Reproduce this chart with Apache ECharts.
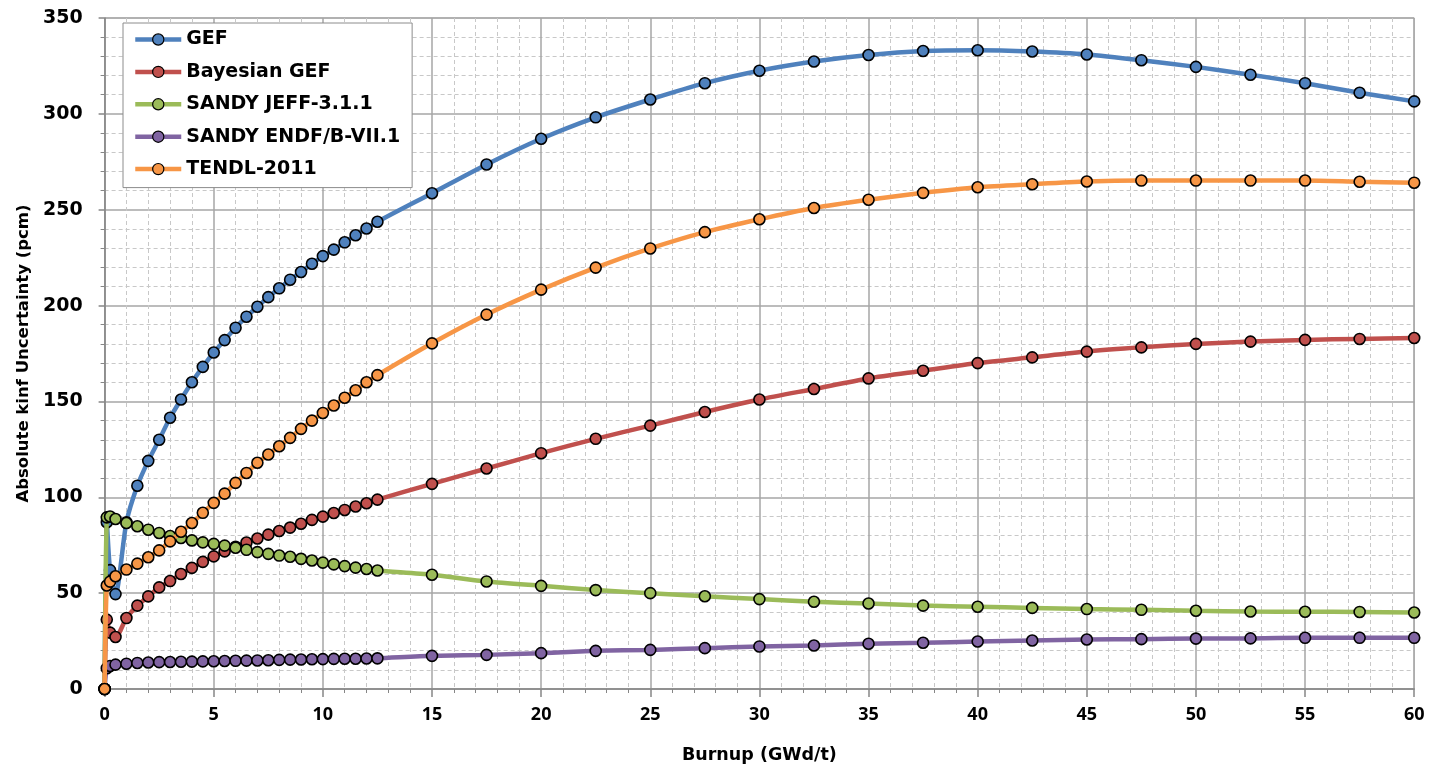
<!DOCTYPE html>
<html>
<head>
<meta charset="utf-8">
<script src="https://cdn.jsdelivr.net/npm/echarts@6/dist/echarts.min.js"></script>
<style>
html,body{margin:0;padding:0;background:#fff;}
#chart{width:1437px;height:769px;}
</style>
</head>
<body>
<div id="chart"></div>
<script>
// Burnup steps (GWd/t)
const burnup = [0, 0.1, 0.25, 0.5, 1, 1.5, 2, 2.5, 3, 3.5, 4, 4.5, 5, 5.5, 6, 6.5, 7, 7.5, 8, 8.5, 9, 9.5, 10, 10.5, 11, 11.5, 12, 12.5,
  15, 17.5, 20, 22.5, 25, 27.5, 30, 32.5, 35, 37.5, 40, 42.5, 45, 47.5, 50, 52.5, 55, 57.5, 60];

const seriesNames = ['GEF', 'Bayesian GEF', 'SANDY JEFF-3.1.1', 'SANDY ENDF/B-VII.1', 'TENDL-2011'];

const gef = [0, 87, 62, 49.5, 87, 106, 119, 130, 141.5, 151, 160, 168, 175.5, 182, 188.4, 194.2, 199.4, 204.4, 209, 213.5, 217.5, 221.8, 225.8, 229.2, 233, 236.7, 240.2, 243.7,
  258.6, 273.6, 287, 298.2, 307.5, 316, 322.5, 327.3, 330.7, 332.8, 333.2, 332.5, 331, 328, 324.5, 320.4, 316, 311, 306.5];

const bayesianGef = [0, 36.2, 29.4, 27.1, 37, 43.5, 48.3, 53, 56.3, 60, 63.2, 66.3, 69.2, 71.8, 74.2, 76.4, 78.5, 80.5, 82.4, 84.2, 86.2, 88.2, 89.9, 91.8, 93.4, 95.2, 96.9, 98.8,
  107, 115, 123, 130.5, 137.4, 144.5, 151, 156.5, 162, 166, 170, 173, 176, 178.2, 180, 181.2, 182.1, 182.6, 183.1];

const sandyJeff = [0, 89.5, 90, 88.7, 86.6, 84.9, 83.1, 81.4, 79.8, 78.8, 77.5, 76.5, 75.7, 74.8, 73.7, 72.6, 71.4, 70.5, 69.6, 69, 67.9, 67, 65.9, 65, 64.1, 63.3, 62.6, 61.8,
  59.6, 56.1, 53.8, 51.6, 50, 48.4, 46.9, 45.5, 44.6, 43.5, 42.9, 42.3, 41.7, 41.3, 40.8, 40.4, 40.3, 40.2, 39.9];

const sandyEndf = [0, 10.8, 12, 12.7, 13.2, 13.6, 13.8, 14, 14.1, 14.2, 14.3, 14.4, 14.5, 14.6, 14.7, 14.8, 14.9, 15, 15.2, 15.3, 15.4, 15.5, 15.6, 15.7, 15.8, 15.8, 15.9, 16,
  17.3, 17.8, 18.7, 19.9, 20.4, 21.3, 22.2, 22.7, 23.6, 24.1, 24.8, 25.3, 25.8, 26, 26.3, 26.4, 26.7, 26.7, 26.7];

const tendl = [0, 54, 56, 58.8, 62.3, 65.4, 68.7, 72.3, 77, 82, 86.6, 91.9, 97.1, 101.9, 107.5, 112.7, 118, 122.3, 126.6, 131, 135.7, 140, 144, 147.9, 151.9, 155.8, 160, 163.7,
  180.3, 195.3, 208.3, 219.8, 229.8, 238.3, 245, 250.9, 255.2, 258.8, 261.7, 263.3, 264.7, 265.2, 265.2, 265.2, 265.2, 264.6, 264.1];

const xTicks = { min: 0, max: 60, interval: 5 };
const yTicks = { min: 0, max: 350, interval: 50 };

const colors = ['#4f81bd', '#c0504d', '#9bbb59', '#8064a2', '#f79646'];
const values = [gef, bayesianGef, sandyJeff, sandyEndf, tendl];

const chart = echarts.init(document.getElementById('chart'), null, { renderer: 'canvas' });

const series = values.map((vals, i) => ({
  name: seriesNames[i],
  type: 'line',
  data: burnup.map((b, j) => [b, vals[j]]),
  smooth: 0.25,
  symbol: 'circle',
  symbolSize: 11,
  showAllSymbol: true,
  lineStyle: { color: colors[i], width: 4.5 },
  itemStyle: { color: colors[i], borderColor: '#000', borderWidth: 1.6 },
  emphasis: { disabled: true },
  animation: false,
  z: 2 + i
}));

chart.setOption({
  animation: false,
  backgroundColor: '#fff',
  grid: {
    left: 104.6, right: 22.8, top: 18, bottom: 79.5,
    show: true, borderColor: '#a6a6a6', borderWidth: 1, backgroundColor: 'transparent'
  },
  legend: {
    show: true,
    orient: 'vertical',
    left: 123, top: 23,
    padding: [7, 12, 9, 10],
    itemWidth: 46, itemHeight: 14, itemGap: 13.4,
    backgroundColor: '#fff',
    borderColor: '#8c8c8c', borderWidth: 1,
    lineStyle: { width: 4.5 },
    itemStyle: { borderColor: '#000', borderWidth: 1.2 },
    textStyle: { fontFamily: 'DejaVu Sans', fontWeight: 'bold', fontSize: 19, color: '#000' },
    data: seriesNames
  },
  xAxis: {
    type: 'value',
    min: xTicks.min, max: xTicks.max, interval: xTicks.interval,
    name: 'Burnup (GWd/t)',
    nameLocation: 'middle', nameGap: 57,
    nameTextStyle: { fontFamily: 'DejaVu Sans', fontWeight: 'bold', fontSize: 17.5, color: '#000' },
    axisLine: { show: true, lineStyle: { color: '#868686', width: 1.5 } },
    axisTick: { show: true, length: 8, inside: false, lineStyle: { color: '#868686', width: 1.5 } },
    minorTick: { show: true, splitNumber: 5, length: 4, lineStyle: { color: '#868686' } },
    axisLabel: { fontFamily: 'Open Sans', fontWeight: 'bold', fontSize: 18, color: '#000', margin: 17 },
    splitLine: { show: true, lineStyle: { color: '#a6a6a6', width: 1.5 } },
    minorSplitLine: { show: true, lineStyle: { color: '#c8c8c8', type: [4, 3], width: 1 } }
  },
  yAxis: {
    type: 'value',
    min: yTicks.min, max: yTicks.max, interval: yTicks.interval,
    name: 'Absolute kinf Uncertainty (pcm)',
    nameLocation: 'middle', nameGap: 70,
    nameTextStyle: { fontFamily: 'DejaVu Sans', fontWeight: 'bold', fontSize: 16.5, color: '#000' },
    axisLine: { show: true, lineStyle: { color: '#868686', width: 1.5 } },
    axisTick: { show: true, length: 6, inside: false, lineStyle: { color: '#868686', width: 1.5 } },
    minorTick: { show: true, splitNumber: 5, length: 4, lineStyle: { color: '#868686' } },
    axisLabel: { fontFamily: 'DejaVu Sans', fontWeight: 'bold', fontSize: 19, color: '#000', margin: 22 },
    splitLine: { show: true, lineStyle: { color: '#a6a6a6', width: 1.5 } },
    minorSplitLine: { show: true, lineStyle: { color: '#c8c8c8', type: [4, 3], width: 1 } }
  },
  series: series
});
</script>
</body>
</html>
